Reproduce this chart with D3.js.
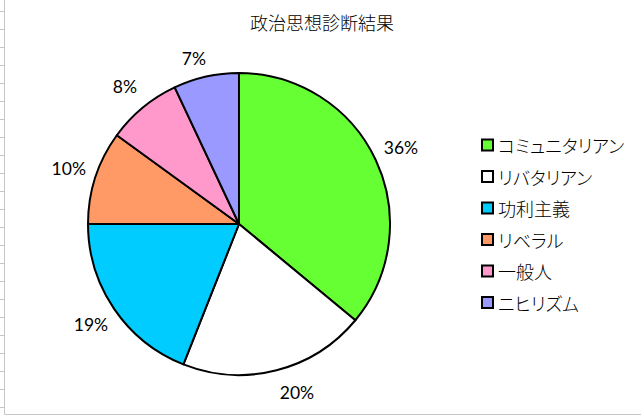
<!DOCTYPE html>
<html>
<head>
<meta charset="utf-8">
<script src="https://cdn.jsdelivr.net/npm/d3@7"></script>
<style>
  body { margin: 0; background: #fff; }
  svg { display: block; }
  .jp { font-family: "Noto Sans CJK JP", sans-serif; font-feature-settings: "palt"; font-weight: 300; }
  .pct { font-family: Lato, "Noto Sans", sans-serif; }
</style>
</head>
<body>
<div id="chart"></div>
<script>
const categories = ["コミュニタリアン", "リバタリアン", "功利主義", "リベラル", "一般人", "ニヒリズム"];
const values = [36, 20, 19, 10, 8, 7];
const colors = ["#66ff33", "#ffffff", "#00ccff", "#ff9966", "#ff99cc", "#9999ff"];
const title = "政治思想診断結果";

const width = 641;
const height = 415;
const cx = 239, cy = 224, radius = 151;

const svg = d3.select("#chart")
  .append("svg")
  .attr("width", width)
  .attr("height", height);

// worksheet behind the chart: row lines peeking out on the left, chart border
svg.append("g")
  .attr("stroke", "#c6c6c6")
  .selectAll("line")
  .data(d3.range(11.5, height, 18))
  .join("line")
    .attr("x1", 0).attr("x2", 4.5)
    .attr("y1", d => d).attr("y2", d => d);

svg.append("path")
  .attr("d", `M4.5,0V414.5H${width}`)
  .attr("fill", "none")
  .attr("stroke", "#c6c6c6");

svg.append("text")
  .attr("class", "jp")
  .attr("x", 322)
  .attr("y", 22)
  .attr("text-anchor", "middle")
  .attr("dominant-baseline", "central")
  .attr("font-size", "18px")
  .attr("fill", "#000")
  .text(title);

const pie = d3.pie().sort(null).value(d => d)
const arcs = pie(values)

const arc = d3.arc().innerRadius(0).outerRadius(radius)
const labelArc = d3.arc().innerRadius(179).outerRadius(179)

const g = svg.append("g").attr("transform", `translate(${cx},${cy})`)

g.selectAll("path")
  .data(arcs)
  .join("path")
    .attr("d", arc)
    .attr("fill", (d, i) => colors[i])
    .attr("stroke", "#000")
    .attr("stroke-width", 2)
    .attr("stroke-linejoin", "round");

// Excel shifted a couple of the labels off the middle of their slice
const labelNudge = { 1: { angle: -0.08, r: 178 }, 5: { angle: -0.045, r: 172 } }

g.selectAll("text")
  .data(arcs)
  .join("text")
    .attr("class", "pct")
    .attr("transform", (d, i) => {
      const n = labelNudge[i]
      if (!n) return `translate(${labelArc.centroid(d)})`
      const a = (d.startAngle + d.endAngle) / 2 + n.angle
      return `translate(${Math.sin(a) * n.r},${-Math.cos(a) * n.r})`
    })
    .attr("text-anchor", "middle")
    .attr("dominant-baseline", "central")
    .attr("font-size", "17.5px")
    .attr("fill", "#000")
    .text(d => d3.format(".0%")(d.value / d3.sum(values)));

// legend
const legend = svg.append("g")
  .selectAll("g")
  .data(categories)
  .join("g")
    .attr("transform", (d, i) => `translate(482,${145 + i * 31.5})`);

legend.append("rect")
  .attr("x", 0).attr("y", -5.5)
  .attr("width", 11).attr("height", 11)
  .attr("fill", (d, i) => colors[i])
  .attr("stroke", "#000")
  .attr("stroke-width", 2);

legend.append("text")
  .attr("class", "jp")
  .attr("x", 16)
  .attr("y", 0)
  .attr("dominant-baseline", "central")
  .attr("font-size", "18px")
  .attr("fill", "#000")
  .text(d => d);
</script>
</body>
</html>
